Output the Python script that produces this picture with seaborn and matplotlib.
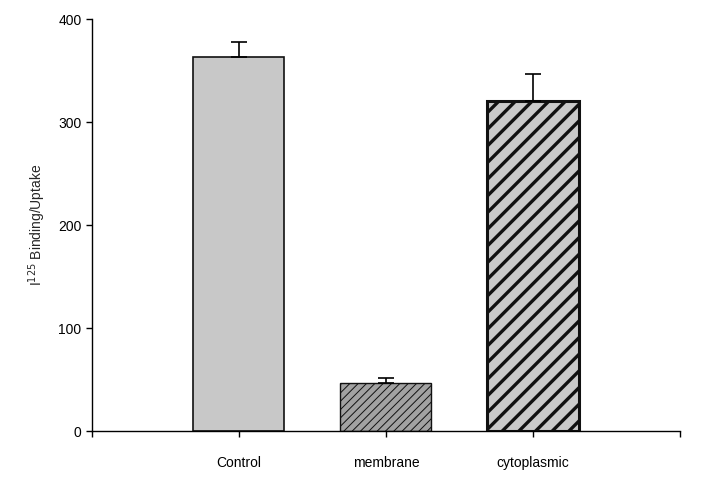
import pandas as pd
import seaborn as sns
import matplotlib.pyplot as plt

groups = ['Control', 'membrane', 'cytoplasmic']
values = [363, 47, 321]
errors = [15, 5, 26]
colors = ['#c8c8c8', '#a2a2a2', '#cacaca']
hatches = ['', '////', '//']

df = pd.DataFrame({'group': groups, 'value': values})

sns.set_style('ticks')
plt.rcParams['font.family'] = ['Liberation Sans', 'DejaVu Sans']

fig = plt.figure(figsize=(7.01, 4.8), dpi=100)
ax = fig.add_axes([0.131, 0.102, 0.839, 0.858])

sns.barplot(data=df, x='group', y='value', hue='group', palette=colors,
            width=0.62, legend=False, ax=ax, errorbar=None, saturation=1)

for patch, h, lw in zip(ax.patches, hatches, [1.2, 1.0, 2.2]):
    patch.set_edgecolor('#111111')
    patch.set_linewidth(lw)
    if h:
        patch.set_hatch(h)
        if hasattr(patch, 'set_hatch_linewidth'):
            patch.set_hatch_linewidth(2.4 if h == '//' else 0.7)

ax.errorbar(range(len(groups)), values, yerr=[[0] * 3, errors], fmt='none',
            ecolor='black', elinewidth=1.2, capsize=6, capthick=1.2)

ax.set_xlim(-1, 3)
ax.set_ylim(0, 400)
ax.set_yticks([0, 100, 200, 300, 400])
ax.set_xticks([-1, 0, 1, 2, 3])
ax.set_xticklabels([''] + groups + [''])
ax.tick_params(axis='both', labelsize=10, length=4, width=1, colors='black')
ax.tick_params(axis='x', pad=14)
ax.set_xlabel('')
ax.set_ylabel('I$^{125}$ Binding/Uptake', fontsize=10, labelpad=22)
ax.yaxis.set_label_coords(-0.075, 0.5)
for s in ['left', 'bottom']:
    ax.spines[s].set_linewidth(1)
    ax.spines[s].set_color('black')
sns.despine(ax=ax)

fig.savefig('out.png', dpi=100)
